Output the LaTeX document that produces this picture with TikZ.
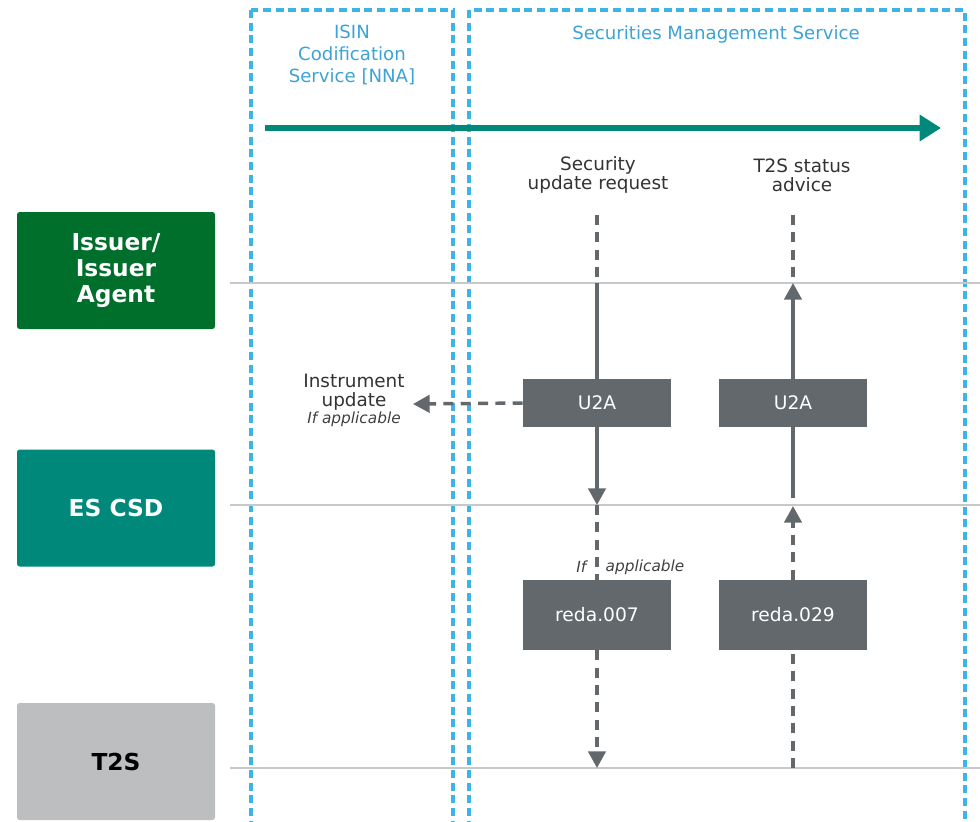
\documentclass[tikz,border=0pt]{standalone}
\usepackage{fontspec}
\setmainfont{DejaVu Sans}
\usetikzlibrary{arrows.meta}
\definecolor{issuer}{HTML}{006F2C}
\definecolor{escsd}{HTML}{00897B}
\definecolor{tts}{HTML}{BCBEC0}
\definecolor{msg}{HTML}{62686B}
\definecolor{svc}{HTML}{3CB4E5}
\definecolor{svctext}{HTML}{3DA3D4}
\definecolor{lane}{HTML}{C6C8CA}
\definecolor{tl}{HTML}{00897B}
\begin{document}
\begin{tikzpicture}[x=0.75pt,y=-0.75pt,
  actor/.style={rounded corners=2pt,minimum width=148.5pt,minimum height=87.75pt,font=\bfseries\fontsize{17.5}{19.5}\selectfont,align=center,inner sep=0pt},
  msgbox/.style={fill=msg,text=white,minimum width=111pt,inner sep=0pt,font=\fontsize{14}{16}\selectfont},
  svcbox/.style={draw=svc,line width=2.4pt,dash pattern=on 6pt off 3.5pt},
  svclabel/.style={text=svctext,font=\fontsize{13.6}{16.2}\selectfont,align=center},
  label/.style={text=black!80,font=\fontsize{13.8}{14.3}\selectfont,align=center},
  small/.style={text=black!75,font=\itshape\fontsize{11.5}{13}\selectfont},
  solidarr/.style={draw=msg,line width=2.6pt,-{Triangle[width=13pt,length=12.5pt]}},
  dasharr/.style={draw=msg,line width=2.6pt,dash pattern=on 7.5pt off 5.5pt,-{Triangle[width=13pt,length=12.5pt]}},
  solidln/.style={draw=msg,line width=2.6pt},
  dashln/.style={draw=msg,line width=2.6pt,dash pattern=on 7.5pt off 5.5pt},
  laneln/.style={draw=lane,line width=1.5pt}]
\useasboundingbox (0,0) rectangle (980,821);
% service boxes
\draw[svcbox] (251,10) rectangle (453,825);
\draw[svcbox] (469,10) rectangle (965,825);
\node[svclabel] (isin) at (352,55) {ISIN\\Codification\\Service [NNA]};
\node[svclabel] (sms) at (716,34) {Securities Management Service};
% timeline
\coordinate (tl0) at (265,128);
\coordinate (tl1) at (941,128);
\draw[draw=tl,line width=4.5pt,-{Triangle[width=19pt,length=16pt]}] (tl0) -- (tl1);
% lanes
\coordinate (l1a) at (230,283); \coordinate (l1b) at (980,283);
\coordinate (l2a) at (230,505); \coordinate (l2b) at (980,505);
\coordinate (l3a) at (230,768); \coordinate (l3b) at (980,768);
\draw[laneln] (l1a) -- (l1b);
\draw[laneln] (l2a) -- (l2b);
\draw[laneln] (l3a) -- (l3b);
% actors
\node[actor,fill=issuer,text=white] (issuer) at (116,270.5) {Issuer/\\Issuer\\Agent};
\node[actor,fill=escsd,text=white] (escsd) at (116,508) {ES CSD};
\node[actor,fill=tts,text=black] (t2s) at (116,761.5) {T2S};
% column labels
\node[label] (sur) at (598,175) {Security\\update request};
\node[label] (tsa) at (802,175) {T2S status\\advice};
% message boxes
\node[msgbox,minimum height=36pt] (u2a1) at (597,403) {U2A};
\node[msgbox,minimum height=36pt] (u2a2) at (793,403) {U2A};
\node[msgbox,minimum height=52.5pt] (reda7) at (597,615) {reda.007};
\node[msgbox,minimum height=52.5pt] (reda29) at (793,615) {reda.029};
% column 1
\coordinate (c1top) at (597,215);
\coordinate (c1l1) at (597,283);
\coordinate (c1l2) at (597,505);
\coordinate (c1l3) at (597,768);
\draw[dashln] (c1top) -- (c1l1);
\draw[solidln] (c1l1) -- (u2a1.north);
\draw[solidarr] (u2a1.south) -- (c1l2);
\draw[dashln] (c1l2) -- (reda7.north);
\draw[dasharr] (reda7.south) -- (c1l3);
\node[small,anchor=east] (if) at (591,567) {If};
\node[small,anchor=west] (app) at (601,567) {applicable};
% column 2
\coordinate (c2top) at (793,215);
\coordinate (c2l1) at (793,283);
\coordinate (c2m) at (793,498);
\coordinate (c2l2) at (793,506);
\coordinate (c2l3) at (793,768);
\draw[dashln] (c2top) -- (c2l1);
\draw[solidarr] (u2a2.north) -- (c2l1);
\draw[solidln] (u2a2.south) -- (c2m);
\draw[dasharr] (reda29.north) -- (c2l2);
\draw[dashln] (c2l3) -- (reda29.south);
% instrument update
\node[label] (inst) at (354,392) {Instrument\\update};
\node[small] (instif) at (354,419) {If applicable};
\coordinate (instend) at (413,404);
\draw[dasharr] (u2a1.west) -- (instend);
\end{tikzpicture}
\end{document}
